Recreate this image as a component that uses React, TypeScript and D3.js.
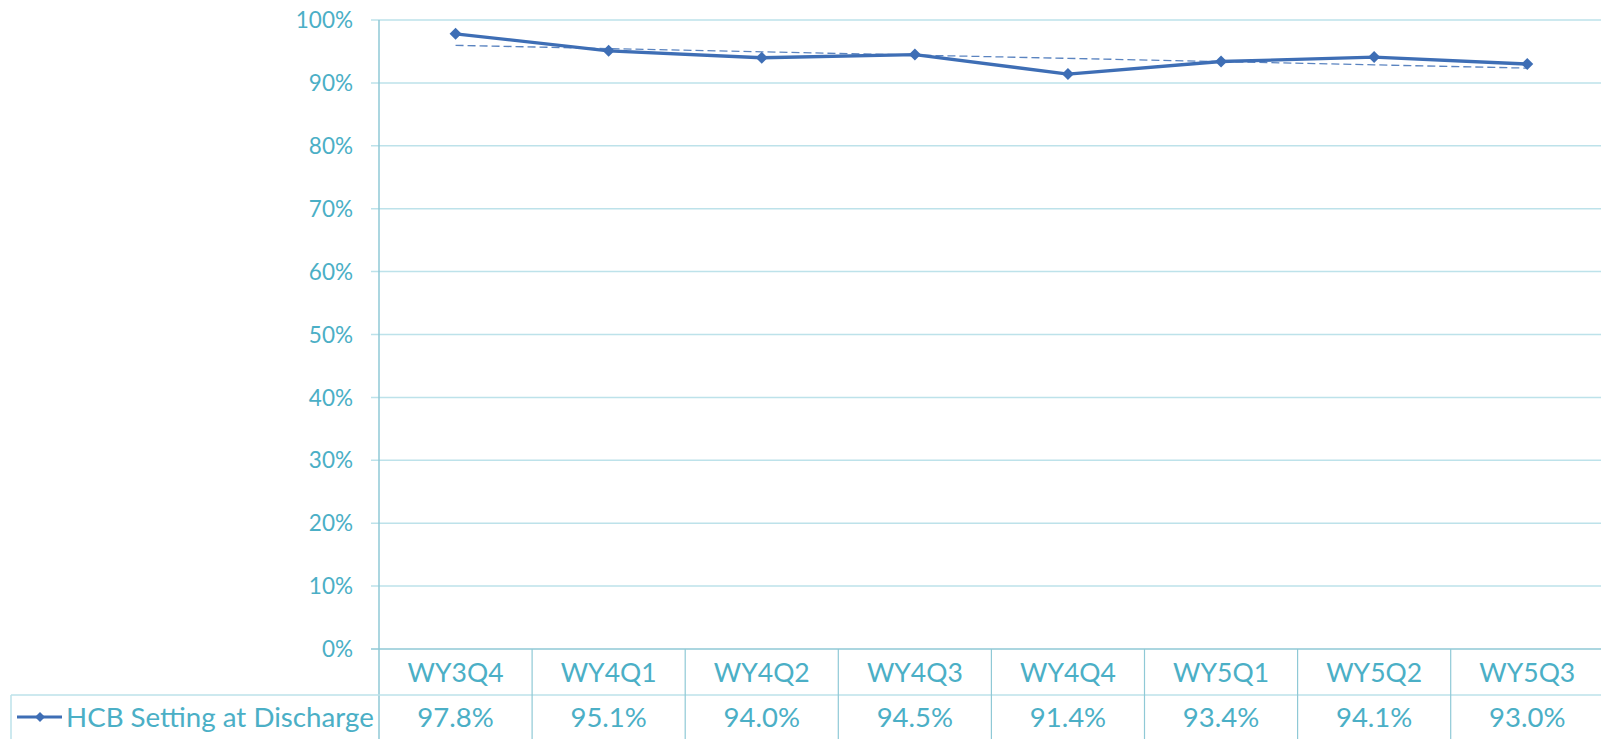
import React from 'react';
import * as d3 from 'd3';

const categories = ['WY3Q4', 'WY4Q1', 'WY4Q2', 'WY4Q3', 'WY4Q4', 'WY5Q1', 'WY5Q2', 'WY5Q3'];
const hcbValues = [0.978, 0.951, 0.940, 0.945, 0.914, 0.934, 0.941, 0.930];
const yTicks = [0, 0.1, 0.2, 0.3, 0.4, 0.5, 0.6, 0.7, 0.8, 0.9, 1.0];
const seriesName = 'HCB Setting at Discharge';

const W = 1601;
const H = 739;
const axisX = 379;
const colW = 153.1;
const yTop = 20;
const yZero = 649;
const rowH = 46;

const TEXT = '#4BAFC6';
const GRID = '#BDE2EA';
const BORDER = '#8FC9D6';
const LINE = '#3E6EB5';
const FONT = 'Lato, sans-serif';

// linear trendline like excel's
function trend(vals: number[]) {
  const n = vals.length;
  const xs = d3.range(n);
  const mx = d3.mean(xs) as number;
  const my = d3.mean(vals) as number;
  const sxy = d3.sum(xs, (x, i) => (x - mx) * (vals[i] - my));
  const sxx = d3.sum(xs, x => (x - mx) * (x - mx));
  const b = sxy / sxx;
  return xs.map(x => my + b * (x - mx));
}

const diamond = (cx: number, cy: number, r: number) =>
  `M${cx},${cy - r}L${cx + r},${cy}L${cx},${cy + r}L${cx - r},${cy}Z`;

export default function App() {
  const x = d3.scaleBand<string>().domain(categories).range([axisX, axisX + colW * categories.length]);
  const y = d3.scaleLinear().domain([0, 1]).range([yZero, yTop]);
  const cx = (c: string) => (x(c) as number) + x.bandwidth() / 2;

  const line = d3.line<number>().x((_, i) => cx(categories[i])).y(d => y(d));
  const trendVals = trend(hcbValues);
  const right = axisX + colW * categories.length;

  return (
    <svg width={W} height={H} style={{ position: 'absolute', left: 0, top: 0, background: '#fff' }} fontFamily={FONT}>
      {/* gridlines + ticks */}
      {yTicks.map(t => (
        <g key={t}>
          <line x1={axisX - 8} x2={right} y1={y(t)} y2={y(t)} stroke={t === 0 ? BORDER : GRID} strokeWidth={1.5} />
          <text x={353} y={y(t)} dy="0.36em" textAnchor="end" fontSize={22.5} fill={TEXT}>
            {d3.format('.0%')(t)}
          </text>
        </g>
      ))}
      {/* y axis line continuing through the table */}
      <line x1={axisX} x2={axisX} y1={yTop} y2={H} stroke={BORDER} strokeWidth={1.5} />

      {/* data table */}
      <line x1={11} x2={right} y1={yZero + rowH} y2={yZero + rowH} stroke={GRID} strokeWidth={1.5} />
      <line x1={11} x2={11} y1={yZero + rowH} y2={H} stroke={GRID} strokeWidth={1.5} />
      {categories.map((c, i) => (
        <g key={c}>
          {i > 0 && (
            <line x1={x(c)} x2={x(c)} y1={yZero} y2={H} stroke={BORDER} strokeWidth={1.2} />
          )}
          <text x={cx(c)} y={yZero + 33} textAnchor="middle" fontSize={26.5} fill={TEXT}>{c}</text>
          <text x={cx(c)} y={yZero + rowH + 32} textAnchor="middle" fontSize={27.5} fill={TEXT}>
            {d3.format('.1%')(hcbValues[i])}
          </text>
        </g>
      ))}
      {/* legend key */}
      <line x1={17} x2={62} y1={717} y2={717} stroke={LINE} strokeWidth={3} />
      <path d={diamond(40, 717, 5)} fill={LINE} />
      <text x={66} y={727} fontSize={27.7} fill={TEXT}>{seriesName}</text>

      {/* trendline */}
      <path d={line(trendVals) as string} fill="none" stroke={LINE} strokeWidth={1.3} strokeDasharray="8,4" opacity={0.85} />
      {/* series */}
      <path d={line(hcbValues) as string} fill="none" stroke={LINE} strokeWidth={3.3} strokeLinejoin="round" />
      {hcbValues.map((v, i) => (
        <path key={i} d={diamond(cx(categories[i]), y(v), 6)} fill={LINE} />
      ))}
    </svg>
  );
}
